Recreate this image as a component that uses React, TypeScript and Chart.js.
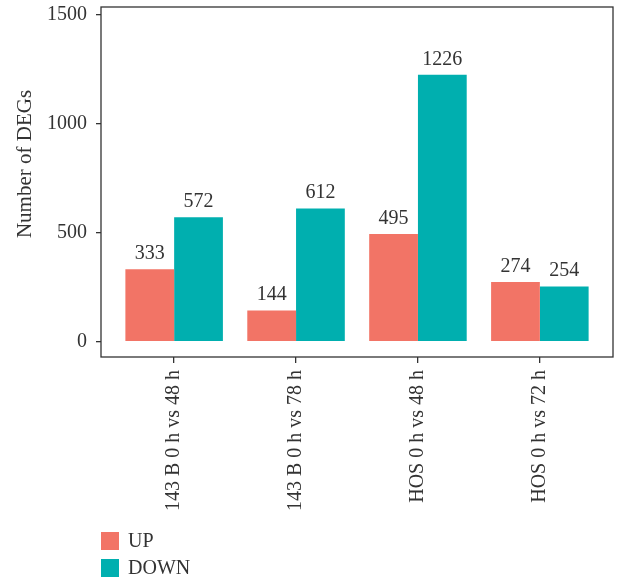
import React, { useEffect, useRef } from "react";
import { Chart, registerables } from "chart.js";

Chart.register(...registerables);

const categories = ["143 B 0 h vs 48 h", "143 B 0 h vs 78 h", "HOS 0 h vs 48 h", "HOS 0 h vs 72 h"];
const upValues = [333, 144, 495, 274];
const downValues = [572, 612, 1226, 254];
const yTicks = [0, 500, 1000, 1500];
const seriesNames = ["UP", "DOWN"];
const seriesColors = ["#F27466", "#00AFAF"];
const yTitle = "Number of DEGs";

const FONT = "'Liberation Serif', 'Times New Roman', serif";
const TEXT = "#333333";

const borderPlugin = {
  id: "plotBorder",
  afterDraw(chart: any) {
    const { ctx, chartArea } = chart;
    ctx.save();
    ctx.strokeStyle = TEXT;
    ctx.lineWidth = 1.3;
    ctx.strokeRect(chartArea.left, chartArea.top, chartArea.right - chartArea.left, chartArea.bottom - chartArea.top);
    ctx.restore();
  },
};

const yTitlePlugin = {
  id: "yTitle",
  afterDraw(chart: any) {
    const { ctx } = chart;
    ctx.save();
    ctx.font = `21px ${FONT}`;
    ctx.fillStyle = TEXT;
    ctx.textAlign = "center";
    ctx.textBaseline = "middle";
    ctx.translate(25, 164);
    ctx.rotate(-Math.PI / 2);
    ctx.fillText(yTitle, 0, 0);
    ctx.restore();
  },
};

const valueLabelPlugin = {
  id: "valueLabels",
  afterDatasetsDraw(chart: any) {
    const { ctx } = chart;
    ctx.save();
    ctx.font = `20px ${FONT}`;
    ctx.fillStyle = TEXT;
    ctx.textAlign = "center";
    ctx.textBaseline = "alphabetic";
    chart.data.datasets.forEach((ds: any, di: number) => {
      const meta = chart.getDatasetMeta(di);
      meta.data.forEach((bar: any, i: number) => {
        const v = ds.data[i].y;
        ctx.fillText(String(v), bar.x, bar.y - 10);
      });
    });
    ctx.restore();
  },
};

const legendPlugin = {
  id: "customLegend",
  afterDraw(chart: any) {
    const { ctx, chartArea } = chart;
    ctx.save();
    ctx.font = `20px ${FONT}`;
    ctx.textAlign = "left";
    ctx.textBaseline = "middle";
    const x0 = chartArea.left;
    const y0 = 532;
    seriesNames.forEach((name, i) => {
      const y = y0 + i * 27;
      ctx.fillStyle = seriesColors[i];
      ctx.fillRect(x0, y, 18, 18);
      ctx.fillStyle = TEXT;
      ctx.fillText(name, x0 + 27, y + 10);
    });
    ctx.restore();
  },
};

export default function App() {
  const ref = useRef<HTMLCanvasElement>(null);
  useEffect(() => {
    if (!ref.current) return;
    const chart = new Chart(ref.current, {
      type: "bar",
      data: {
        datasets: [
          {
            label: seriesNames[0],
            data: upValues.map((v, i) => ({ x: i, y: v })),
            backgroundColor: seriesColors[0],
            borderWidth: 0,
          },
          {
            label: seriesNames[1],
            data: downValues.map((v, i) => ({ x: i, y: v })),
            backgroundColor: seriesColors[1],
            borderWidth: 0,
          },
        ],
      },
      options: {
        responsive: true,
        maintainAspectRatio: false,
        animation: false,
        layout: { padding: { top: 7, right: 10, left: 0, bottom: 0 } },
        datasets: { bar: { categoryPercentage: 0.8, barPercentage: 1.0 } },
        plugins: {
          legend: { display: false },
          tooltip: { enabled: false },
        },
        scales: {
          x: {
            type: "linear",
            min: -0.6,
            max: 3.6,
            offset: false,
            afterBuildTicks: (scale: any) => {
              scale.ticks = categories.map((_, i) => ({ value: i }));
            },
            afterFit: (scale: any) => {
              scale.height = 229;
              scale.paddingLeft = 0;
              scale.paddingRight = 0;
            },
            ticks: {
              autoSkip: false,
              minRotation: 90,
              maxRotation: 90,
              padding: 7,
              color: TEXT,
              font: { family: FONT, size: 20 },
              callback: (v: any) => categories[v] ?? "",
            },
            grid: { offset: false, drawOnChartArea: false, drawTicks: true, tickLength: 6, color: TEXT, lineWidth: 1.3 },
            border: { display: false },
          },
          y: {
            type: "linear",
            min: -70,
            max: 1537,
            afterBuildTicks: (scale: any) => {
              scale.ticks = yTicks.map((v) => ({ value: v }));
            },
            afterFit: (scale: any) => {
              scale.width = 101;
              scale.paddingTop = 0;
              scale.paddingBottom = 0;
            },
            ticks: {
              padding: 9,
              color: TEXT,
              font: { family: FONT, size: 20 },
              callback: (v: any) => String(v),
            },
            grid: { drawOnChartArea: false, drawTicks: true, tickLength: 5, color: TEXT, lineWidth: 1.3 },
            border: { display: false },
            title: { display: false },
          },
        },
      },
      plugins: [borderPlugin, valueLabelPlugin, legendPlugin, yTitlePlugin],
    });
    return () => chart.destroy();
  }, []);
  return (
    <div style={{ position: "absolute", left: 0, top: 0, width: 623, height: 586, background: "#fff" }}>
      <canvas ref={ref} />
    </div>
  );
}
